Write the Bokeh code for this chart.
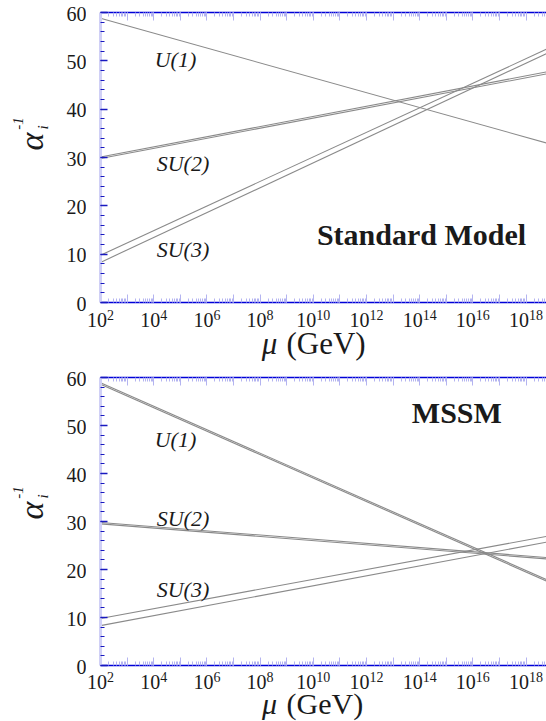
import math
from bokeh.plotting import figure
from bokeh.layouts import column, row
from bokeh.models import Range1d, FixedTicker, LogAxis, CustomJSTickFormatter, ColumnDataSource
from bokeh.core.properties import value
from bokeh.embed import file_html
from bokeh.resources import INLINE

# ---------------- data ----------------
MU_MIN = 1e2
MU_MAX = 10 ** 18.77
mu_ends = [MU_MIN, MU_MAX]          # scale mu (GeV) at the two ends of each running line

# Standard Model inverse couplings at mu_ends
sm_u1 = [58.8, 33.0]
sm_su2_a = [29.8, 47.3]
sm_su2_b = [30.1, 47.7]
sm_su3_a = [8.3, 51.5]
sm_su3_b = [9.8, 52.4]

# MSSM inverse couplings at mu_ends
mssm_u1_a = [58.6, 17.6]
mssm_u1_b = [58.9, 17.9]
mssm_su2_a = [29.5, 22.2]
mssm_su2_b = [29.8, 22.5]
mssm_su3_a = [8.3, 25.7]
mssm_su3_b = [9.8, 26.9]

y_ticks = [0, 10, 20, 30, 40, 50, 60]
y_tick_labels = ["0", "10", "20", "30", "40", "50", "60"]
y_minor = list(range(0, 61, 2))
x_label_exps = [2, 4, 6, 8, 10, 12, 14, 16, 18]
decades = [10.0 ** d for d in range(2, 19)]
x_minor = [k * 10.0 ** d for d in range(2, 19) for k in range(1, 10)]

group_names = ["U(1)", "SU(2)", "SU(3)"]
sm_name_pos = [(4.82, 50.3), (5.1, 28.7), (5.1, 10.9)]
mssm_name_pos = [(4.82, 47.0), (5.1, 30.6), (5.1, 15.8)]
sm_title_pos = (14.07, 14.0)
mssm_title_pos = (15.4, 52.7)

# ---------------- style / layout ----------------
SERIF = "Liberation Serif"
TXT = "#1a1a1a"
LINE_COL = "#8a8a8a"
DARK_BLUE = "#0000d8"
LIGHT_BLUE = "#b4b4f0"
W = 546
LEFT_W = 86            # strip holding y tick labels and the alpha label
AXIS_BORDER = 14       # main figure border left of its frame
BOTTOM_BORDER = 4
FRAME_W = W - LEFT_W - AXIS_BORDER
PX_DEC = FRAME_W / math.log10(MU_MAX / MU_MIN)


def blank_fig(w, h, xr, yr, xtype="linear"):
    f = figure(width=w, height=h, x_range=xr, y_range=yr, x_axis_type=xtype,
               x_axis_location=None, y_axis_location=None,
               output_backend="svg", toolbar_location=None, frame_align=False,
               min_border_left=0, min_border_right=0, min_border_top=0, min_border_bottom=0)
    f.grid.visible = False
    f.outline_line_color = None
    f.background_fill_color = "white"
    f.border_fill_color = "white"
    return f


def make_panel(series, name_pos, title, title_pos, top, frame_h, strip_h,
               alpha_dy, tick_y, label_y, label_size):
    main_h = top + frame_h + BOTTOM_BORDER
    p = figure(width=W - LEFT_W, height=main_h, x_axis_type="log",
               x_range=Range1d(MU_MIN, MU_MAX), y_range=Range1d(0, 60),
               output_backend="svg", toolbar_location=None, frame_align=False,
               min_border_left=AXIS_BORDER, min_border_right=0,
               min_border_top=top, min_border_bottom=BOTTOM_BORDER)
    p.outline_line_color = None
    p.xgrid.visible = False
    p.ygrid.visible = False
    p.background_fill_color = "white"
    p.border_fill_color = "white"

    for ys in series:
        p.line(mu_ends, ys, line_color=LINE_COL, line_width=1.1)

    ya = p.yaxis[0]
    ya.ticker = FixedTicker(ticks=y_ticks, minor_ticks=y_minor)
    ya.formatter = CustomJSTickFormatter(code="return ''")
    ya.major_label_text_font_size = "1px"
    ya.major_label_standoff = 0
    ya.major_tick_in = 7
    ya.major_tick_out = 0
    ya.minor_tick_in = 4
    ya.minor_tick_out = 0
    ya.major_tick_line_color = "#1818c0"
    ya.minor_tick_line_color = "#1818c0"
    ya.major_tick_line_width = 1.5
    ya.minor_tick_line_width = 1.2
    ya.axis_line_color = "#d0d0f6"
    ya.axis_line_width = 3

    xa = p.xaxis[0]
    xa.ticker = FixedTicker(ticks=decades, minor_ticks=x_minor)
    xa.formatter = CustomJSTickFormatter(code="return ''")
    xa.major_label_text_font_size = "1px"
    xa.major_label_standoff = 0
    xa.major_tick_in = 8
    xa.major_tick_out = 0
    xa.minor_tick_in = 4
    xa.minor_tick_out = 0
    xa.major_tick_line_color = LIGHT_BLUE
    xa.minor_tick_line_color = LIGHT_BLUE
    xa.axis_line_color = DARK_BLUE
    xa.axis_line_width = 1.5

    ta = LogAxis(ticker=FixedTicker(ticks=decades, minor_ticks=x_minor),
                 formatter=CustomJSTickFormatter(code="return ''"),
                 major_label_text_font_size="1px", major_label_standoff=0,
                 major_tick_in=8, major_tick_out=0, minor_tick_in=4, minor_tick_out=0,
                 major_tick_line_color=LIGHT_BLUE, minor_tick_line_color=LIGHT_BLUE,
                 axis_line_color=DARK_BLUE, axis_line_width=1.5)
    p.add_layout(ta, "above")

    # group names and model title
    p.text(x=[10.0 ** lx for lx, _ in name_pos], y=[ly for _, ly in name_pos],
           text=group_names, text_align="center", text_baseline="middle",
           text_font=value(SERIF), text_font_style="italic", text_font_size="22px",
           text_color=TXT)
    p.text(x=[10.0 ** title_pos[0]], y=[title_pos[1]], text=[title],
           text_align="center", text_baseline="middle", text_font=value(SERIF),
           text_font_style="bold", text_font_size="30px", text_color=TXT)

    # left strip: y tick labels and rotated alpha_i^-1, same vertical scale as the frame
    H = main_h + strip_h
    s = frame_h / 60.0
    y_lo = -(H - top - frame_h) / s
    y_hi = 60 + top / s
    ls = blank_fig(LEFT_W, H, Range1d(0, LEFT_W), Range1d(y_lo, y_hi))
    ls.text(x=[LEFT_W - 1] * len(y_ticks), y=y_ticks, text=y_tick_labels,
            x_offset=1, y_offset=1,
            text_align="right", text_baseline="middle", text_font=value(SERIF),
            text_font_size="20px", text_color=TXT)
    ls.text(x=[31], y=[30], y_offset=-alpha_dy, text=["\u03b1"], angle=math.pi / 2,
            text_align="center", text_baseline="middle", text_font=value(SERIF),
            text_font_style="italic", text_font_size="34px", text_color=TXT)
    ls.text(x=[17], y=[30], y_offset=-alpha_dy - 18, text=["-1"], angle=math.pi / 2,
            text_align="center", text_baseline="middle", text_font=value(SERIF),
            text_font_style="italic", text_font_size="15px", text_color=TXT)
    ls.text(x=[42], y=[30], y_offset=-alpha_dy - 14, text=["i"], angle=math.pi / 2,
            text_align="center", text_baseline="middle", text_font=value(SERIF),
            text_font_style="italic", text_font_size="15px", text_color=TXT)

    # bottom strip: x tick labels 10^n and the axis title, sharing the log scale
    x0 = MU_MIN / 10 ** (AXIS_BORDER / PX_DEC)
    bs = blank_fig(W - LEFT_W, strip_h, Range1d(x0, MU_MAX), Range1d(0, strip_h), xtype="log")
    n_dig = [len(str(e)) for e in x_label_exps]
    src = ColumnDataSource(dict(
        x=[10.0 ** e for e in x_label_exps],
        y=[strip_h - tick_y] * len(x_label_exps),
        ye=[strip_h - tick_y + 5] * len(x_label_exps),
        base=["10"] * len(x_label_exps),
        exp=[str(e) for e in x_label_exps],
        off=[10 - 3.5 * n for n in n_dig],
    ))
    bs.text(x="x", y="y", text="base", x_offset="off", source=src,
            text_align="right", text_baseline="middle", text_font=value(SERIF),
            text_font_size="20px", text_color=TXT)
    bs.text(x="x", y="ye", text="exp", x_offset="off", source=src,
            text_align="left", text_baseline="middle", text_font=value(SERIF),
            text_font_size="14px", text_color=TXT)
    xc = math.sqrt(MU_MIN * MU_MAX)
    bs.text(x=[xc], y=[strip_h - label_y], text=["\u03bc"], x_offset=-54,
            text_align="center", text_baseline="middle", text_font=value(SERIF),
            text_font_style="italic", text_font_size=label_size, text_color=TXT)
    bs.text(x=[xc], y=[strip_h - label_y], text=["(GeV)"], x_offset=-37,
            text_align="left", text_baseline="middle", text_font=value(SERIF),
            text_font_size=label_size, text_color=TXT)

    return row(ls, column(p, bs, spacing=0), spacing=0)


top_panel = make_panel([sm_u1, sm_su2_a, sm_su2_b, sm_su3_a, sm_su3_b], sm_name_pos,
                       "Standard Model", sm_title_pos, 12, 290, 58, 16, 13, 37, "31px")
bottom_panel = make_panel([mssm_u1_a, mssm_u1_b, mssm_su2_a, mssm_su2_b, mssm_su3_a, mssm_su3_b],
                          mssm_name_pos, "MSSM", mssm_title_pos, 13, 288, 52, 11, 12, 34, "30px")

layout = column(top_panel, bottom_panel, spacing=0)
open("out.html", "w").write(file_html(layout, INLINE))
